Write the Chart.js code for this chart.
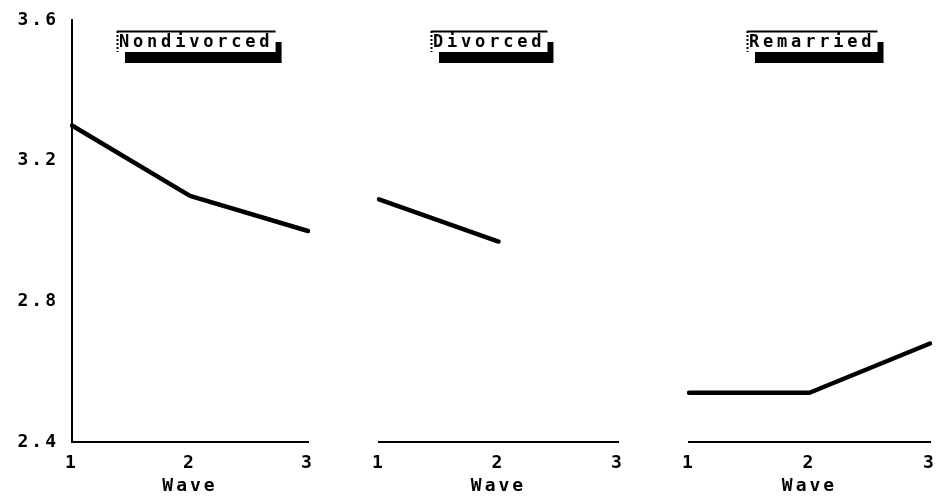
<!DOCTYPE html>
<html>
<head>
<meta charset="utf-8">
<script src="https://cdn.jsdelivr.net/npm/chart.js@4/dist/chart.umd.min.js"></script>
<style>
  html, body { margin: 0; padding: 0; background: #fff; }
  #wrap { position: relative; width: 950px; height: 501px; overflow: hidden; background: #fff; }
  .panel { position: absolute; top: 0; height: 501px; }
  canvas { display: block; }
</style>
</head>
<body>
<div id="wrap">
  <div class="panel" style="left:0px;width:330px"><canvas id="p1" width="330" height="501"></canvas></div>
  <div class="panel" style="left:340px;width:300px"><canvas id="p2" width="300" height="501"></canvas></div>
  <div class="panel" style="left:650px;width:300px"><canvas id="p3" width="300" height="501"></canvas></div>
</div>
<script>
// Mean scores by survey wave for each marital-status group
const waves = ['1', '2', '3'];
const nondivorced = [3.30, 3.10, 3.00];
const divorced = [3.09, 2.97, null];
const remarried = [2.54, 2.54, 2.68];
const yTicks = [2.4, 2.8, 3.2, 3.6];
const groupTitles = ['Nondivorced', 'Divorced', 'Remarried'];
const xTitle = 'Wave';

const MONO = '"DejaVu Sans Mono", "Liberation Mono", monospace';
const tickFont = { family: MONO, size: 18, weight: 'bold' };
const TEXT_SPACING = 3;

// Typewriter-style spacing for all canvas text
const spacing = {
  id: 'spacing',
  beforeLayout(chart) { chart.ctx.letterSpacing = TEXT_SPACING + 'px'; },
  beforeDraw(chart) { chart.ctx.letterSpacing = TEXT_SPACING + 'px'; }
};

// Group caption in a white box with a heavy drop shadow
const boxedTitle = {
  id: 'boxedTitle',
  afterDraw(chart, args, opts) {
    const { ctx, chartArea } = chart;
    const ls = 3.8;
    ctx.save();
    ctx.font = 'bold 17px ' + MONO;
    ctx.letterSpacing = ls + 'px';
    const tw = ctx.measureText(opts.text).width - ls;
    const w = tw + 8;
    const h = 21;
    const cx = (chartArea.left + chartArea.right) / 2 + opts.shift;
    const x = Math.round(cx - w / 2);
    const y = 31;
    ctx.fillStyle = '#000';
    ctx.fillRect(x + 8, y + 11, w - 2, h);
    ctx.fillStyle = '#fff';
    ctx.fillRect(x, y, w, h);
    ctx.strokeStyle = '#000';
    ctx.lineWidth = 2;
    ctx.beginPath();
    ctx.moveTo(x, y + 0.5);
    ctx.lineTo(x + w, y + 0.5);
    ctx.stroke();
    ctx.setLineDash([2, 2]);
    ctx.beginPath();
    ctx.moveTo(x + 0.5, y);
    ctx.lineTo(x + 0.5, y + h);
    ctx.stroke();
    ctx.setLineDash([]);
    ctx.fillStyle = '#000';
    ctx.textAlign = 'left';
    ctx.textBaseline = 'alphabetic';
    ctx.fillText(opts.text, x + 2, y + 16);
    ctx.restore();
  }
};

function makePanel(id, values, title, showY, padding, shift) {
  const yScale = {
    min: 2.4,
    max: 3.6,
    display: showY,
    afterBuildTicks: s => { s.ticks = yTicks.map(v => ({ value: v })); },
    grid: { display: false },
    border: { display: showY, color: '#000', width: 2, dash: [2, 2] },
    ticks: {
      color: '#000',
      font: tickFont,
      padding: 5,
      callback: v => Number(v).toFixed(1)
    }
  };
  if (showY) yScale.afterFit = s => { s.width = 72; };

  return new Chart(document.getElementById(id), {
    type: 'line',
    data: {
      labels: waves,
      datasets: [{
        label: title,
        data: values,
        borderColor: '#000',
        borderWidth: 4.5,
        borderCapStyle: 'round',
        borderJoinStyle: 'round',
        pointRadius: 0,
        tension: 0,
        spanGaps: false
      }]
    },
    options: {
      responsive: false,
      animation: false,
      layout: { padding: padding },
      plugins: {
        legend: { display: false },
        tooltip: { enabled: false },
        title: { display: false },
        boxedTitle: { text: title, shift: shift }
      },
      scales: {
        x: {
          type: 'category',
          offset: false,
          grid: { display: false },
          border: { display: true, color: '#000', width: 2 },
          afterFit: s => { s.height = 59; },
          ticks: {
            color: '#000',
            font: tickFont,
            padding: 3,
            maxRotation: 0,
            autoSkip: false
          },
          title: {
            display: true,
            text: xTitle,
            color: '#000',
            font: tickFont,
            padding: { top: 0, bottom: 4 }
          }
        },
        y: yScale
      }
    },
    plugins: [spacing, boxedTitle]
  });
}

makePanel('p1', nondivorced, groupTitles[0], true, { left: 0, top: 20, right: 22, bottom: 0 }, 6);
makePanel('p2', divorced, groupTitles[1], false, { left: 39, top: 20, right: 22, bottom: 0 }, -9);
makePanel('p3', remarried, groupTitles[2], false, { left: 39, top: 20, right: 20, bottom: 0 }, 3);
</script>
</body>
</html>
